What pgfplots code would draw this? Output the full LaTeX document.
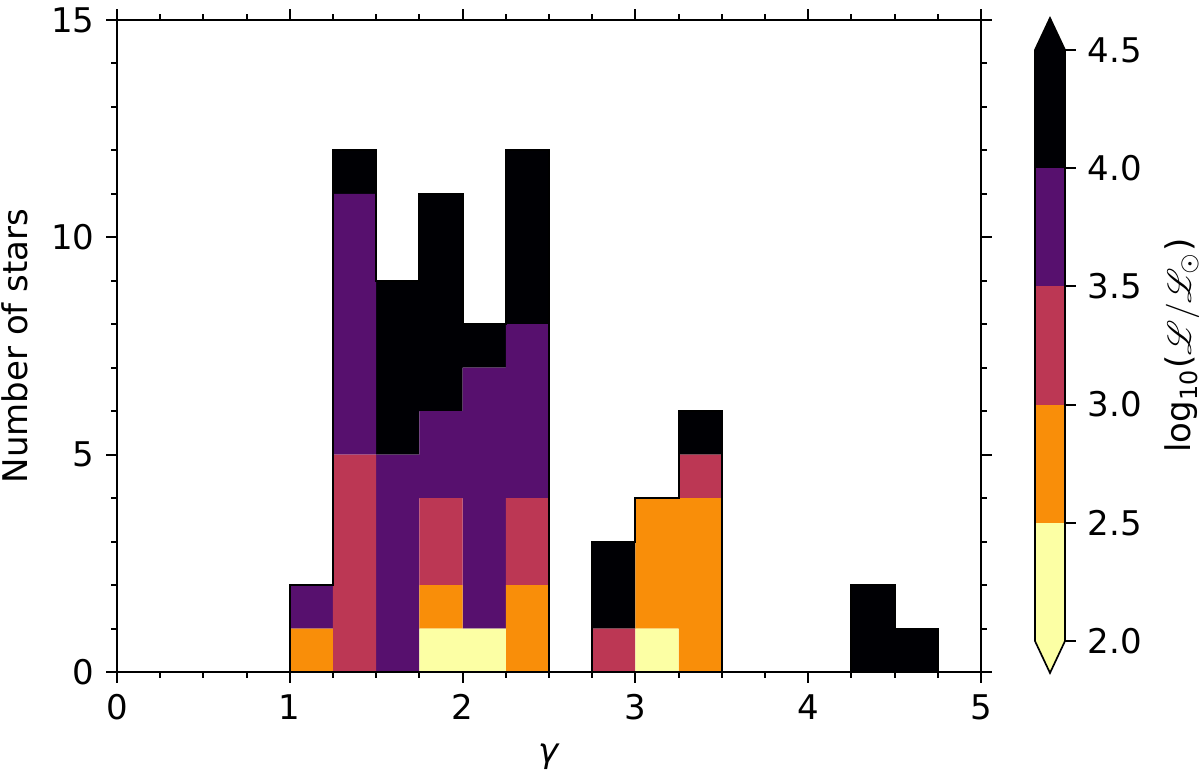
\documentclass[border=0pt]{standalone}
\usepackage{pgfplots}
\pgfplotsset{compat=1.18}
\usepackage{pgfplotstable}
\usepackage{fontspec}
\setmainfont{DejaVu Sans}
\usepackage{mathrsfs}
\definecolor{cA}{RGB}{252,255,164}
\definecolor{cB}{RGB}{249,142,9}
\definecolor{cC}{RGB}{188,55,84}
\definecolor{cD}{RGB}{87,16,110}
\definecolor{cE}{RGB}{0,0,4}
\pgfplotstableread{
x Y O R P B
1.125 0 1 0 1 0
1.375 0 0 5 6 1
1.625 0 0 0 5 4
1.875 1 1 2 2 5
2.125 1 0 0 6 1
2.375 0 2 2 4 4
2.875 0 0 1 0 2
3.125 1 3 0 0 0
3.375 0 4 1 0 1
4.375 0 0 0 0 2
4.625 0 0 0 0 1
}\hist
\begin{document}
\fontsize{10.2}{12}\selectfont
\begin{tikzpicture}
\path[use as bounding box] (-35.1pt,-32.7pt) rectangle (324.9pt,201.6pt);
% bars
\begin{axis}[at={(0pt,0pt)}, anchor=south west, scale only axis,
  width=259.2pt, height=195.6pt, xmin=0, xmax=5, ymin=0, ymax=15,
  ybar stacked, bar width=0.25, hide axis]
\addplot[fill=cA, draw=none] table[x=x,y=Y]{\hist};
\addplot[fill=cB, draw=none] table[x=x,y=O]{\hist};
\addplot[fill=cC, draw=none] table[x=x,y=R]{\hist};
\addplot[fill=cD, draw=none] table[x=x,y=P]{\hist};
\addplot[fill=cE, draw=none] table[x=x,y=B]{\hist};
\end{axis}
% frame, ticks, outline
\begin{axis}[at={(0pt,0pt)}, anchor=south west, scale only axis,
  width=259.2pt, height=195.6pt, xmin=0, xmax=5, ymin=0, ymax=15,
  axis line style={line width=0.75pt},
  every tick/.style={line width=0.6pt, black},
  tick align=outside, major tick length=3.2pt, minor tick length=1.7pt,
  xtick={0,1,2,3,4,5}, ytick={0,5,10,15},
  minor x tick num=3, minor y tick num=4,
  /pgf/number format/assume math mode=true,
  ticklabel style={font=\fontsize{10.2}{12}\selectfont},
  label style={font=\fontsize{10.2}{12}\selectfont},
  xlabel={\textit{γ}}, ylabel={Number of stars}]
\addplot[line width=0.6pt, black, const plot] coordinates {
(0,0)(1,2)(1.25,12)(1.5,9)(1.75,11)(2,8)(2.25,12)(2.5,0)(2.75,3)(3,4)(3.25,6)(3.5,0)(4.25,2)(4.5,1)(4.75,0)(5,0)};
\end{axis}
% colorbar
\begin{axis}[at={(275.4pt,-0.3pt)}, anchor=south west, scale only axis,
  width=9pt, height=196.5pt, xmin=0, xmax=1, ymin=1.865, ymax=4.635,
  clip=false, axis line style={draw=none},
  xtick=\empty, ytick={2,2.5,3,3.5,4,4.5},
  ytick pos=right, yticklabel pos=right, tick align=outside,
  major tick length=3.2pt, every tick/.style={line width=0.6pt, black},
  /pgf/number format/assume math mode=true,
  yticklabel style={/pgf/number format/.cd, fixed, fixed zerofill, precision=1},
  ticklabel style={font=\fontsize{10.2}{12}\selectfont},
  label style={font=\fontsize{10.2}{12}\selectfont},
  ylabel={log\textsubscript{10}($\mathscr{L}/\mathscr{L}_\odot$)}]
\addplot[fill=cA, draw=none] coordinates {(0,2)(1,2)(1,2.5)(0,2.5)} -- cycle;
\addplot[fill=cB, draw=none] coordinates {(0,2.5)(1,2.5)(1,3)(0,3)} -- cycle;
\addplot[fill=cC, draw=none] coordinates {(0,3)(1,3)(1,3.5)(0,3.5)} -- cycle;
\addplot[fill=cD, draw=none] coordinates {(0,3.5)(1,3.5)(1,4)(0,4)} -- cycle;
\addplot[fill=cE, draw=none] coordinates {(0,4)(1,4)(1,4.5)(0,4.5)} -- cycle;
\addplot[fill=cA, draw=none] coordinates {(0,2)(1,2)(0.5,1.865)} -- cycle;
\addplot[fill=cE, draw=none] coordinates {(0,4.5)(1,4.5)(0.5,4.635)} -- cycle;
\addplot[black, line width=0.5pt] coordinates {(0,2)(0.5,1.865)(1,2)(1,4.5)(0.5,4.635)(0,4.5)} -- cycle;
\end{axis}
\end{tikzpicture}
\end{document}
